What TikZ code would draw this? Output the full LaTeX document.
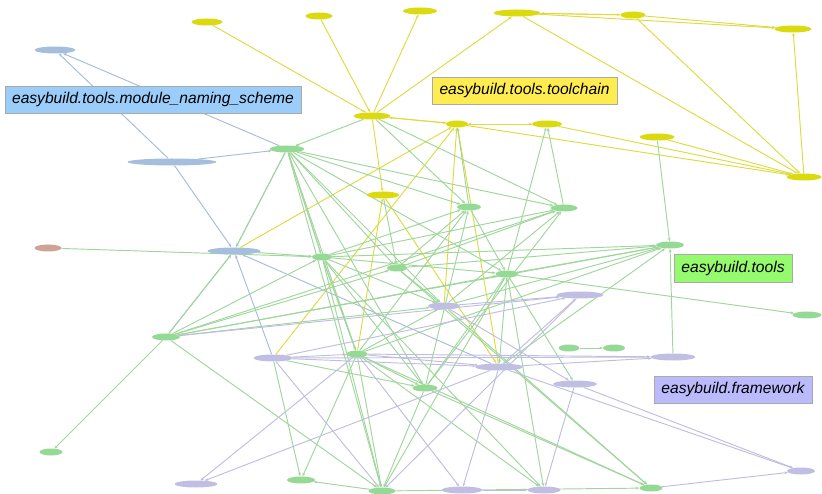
\documentclass[tikz,border=0pt]{standalone}
\usepackage{fontspec}
\setmainfont{Liberation Sans}
\usetikzlibrary{shapes.geometric}
\usetikzlibrary{arrows.meta}
\usetikzlibrary{backgrounds}

\definecolor{tcfill}{RGB}{218,218,14}
\definecolor{mnsfill}{RGB}{166,190,222}
\definecolor{toolsfill}{RGB}{148,218,148}
\definecolor{fwfill}{RGB}{192,190,226}
\definecolor{otherfill}{RGB}{208,162,150}
\definecolor{tcline}{RGB}{220,220,64}
\definecolor{mnsline}{RGB}{168,188,216}
\definecolor{toolsline}{RGB}{160,214,156}
\definecolor{fwline}{RGB}{192,190,222}
\definecolor{mnsbox}{RGB}{155,205,250}
\definecolor{tcbox}{RGB}{255,236,80}
\definecolor{toolsbox}{RGB}{150,250,110}
\definecolor{fwbox}{RGB}{186,186,252}
\definecolor{boxline}{RGB}{170,170,170}

\begin{document}
\begin{tikzpicture}[x=1pt,y=-1pt,
  mod/.style={ellipse,draw=none,minimum height=7pt,inner sep=0pt},
  tcnode/.style={mod,fill=tcfill},
  mnsnode/.style={mod,fill=mnsfill},
  toolsnode/.style={mod,fill=toolsfill},
  fwnode/.style={mod,fill=fwfill},
  othernode/.style={mod,fill=otherfill},
  dep/.style={line width=0.95pt,-{Stealth[length=3.5pt,width=2.8pt]}},
  tcedge/.style={dep,draw=tcline},
  mnsedge/.style={dep,draw=mnsline},
  toolsedge/.style={dep,draw=toolsline},
  fwedge/.style={dep,draw=fwline},
  group/.style={draw=boxline,line width=0.6pt,minimum height=27pt,inner sep=0pt,
    font=\fontsize{15.6}{18}\selectfont\itshape}]

\useasboundingbox (0,0) rectangle (822,494);

% toolchain modules
\node[tcnode,minimum width=31pt] (y1) at (207,22) {};
\node[tcnode,minimum width=27pt] (y2) at (319,16) {};
\node[tcnode,minimum width=34pt] (y3) at (420,11) {};
\node[tcnode,minimum width=47pt] (y4) at (517,13) {};
\node[tcnode,minimum width=25pt] (y5) at (633,15) {};
\node[tcnode,minimum width=37pt] (y6) at (793,29) {};
\node[tcnode,minimum width=37pt] (y7) at (372,116) {};
\node[tcnode,minimum width=22pt] (y8) at (457,124) {};
\node[tcnode,minimum width=30pt] (y9) at (547,124) {};
\node[tcnode,minimum width=35pt] (y10) at (657,137) {};
\node[tcnode,minimum width=35pt] (y11) at (804,177) {};
\node[tcnode,minimum width=32pt] (y12) at (383,195) {};

% module naming scheme modules
\node[mnsnode,minimum width=41pt] (b1) at (55,50) {};
\node[mnsnode,minimum width=89pt] (b2) at (172,162) {};
\node[mnsnode,minimum width=53pt] (b3) at (234,251) {};
\node[othernode,minimum width=27pt] (r1) at (48,248) {};

% tools modules
\node[toolsnode,minimum width=35pt] (g1) at (287,149) {};
\node[toolsnode,minimum width=24pt] (g2) at (469,207) {};
\node[toolsnode,minimum width=27pt] (g3) at (564,208) {};
\node[toolsnode,minimum width=20pt] (g4) at (322,257) {};
\node[toolsnode,minimum width=20pt] (g5) at (397,268) {};
\node[toolsnode,minimum width=23pt] (g6) at (507,274) {};
\node[toolsnode,minimum width=28pt] (g7) at (670,245) {};
\node[toolsnode,minimum width=28pt] (g8) at (166,337) {};
\node[toolsnode,minimum width=21pt] (g9) at (357,354) {};
\node[toolsnode,minimum width=25pt] (g10) at (425,388) {};
\node[toolsnode,minimum width=23pt] (g11) at (51,452) {};
\node[toolsnode,minimum width=28pt] (g12) at (301,480) {};
\node[toolsnode,minimum width=27pt] (g13) at (382,491) {};
\node[toolsnode,minimum width=23pt] (g14) at (651,488) {};
\node[toolsnode,minimum width=29pt] (g15) at (807,315) {};
\node[toolsnode,minimum width=21pt] (g16) at (569,348) {};
\node[toolsnode,minimum width=22pt] (g17) at (614,348) {};

% framework modules
\node[fwnode,minimum width=32pt] (p1) at (444,306) {};
\node[fwnode,minimum width=47pt] (p2) at (580,295) {};
\node[fwnode,minimum width=39pt] (p3) at (273,358) {};
\node[fwnode,minimum width=48pt] (p4) at (499,367) {};
\node[fwnode,minimum width=45pt] (p5) at (673,357) {};
\node[fwnode,minimum width=44pt] (p6) at (575,384) {};
\node[fwnode,minimum width=43pt] (p7) at (196,484) {};
\node[fwnode,minimum width=41pt] (p8) at (462,490) {};
\node[fwnode,minimum width=33pt] (p9) at (544,490) {};
\node[fwnode,minimum width=28pt] (p10) at (801,471) {};

% package labels
\node[group,fill=mnsbox,minimum width=296pt] (mnslabel) at (153,99.5) {easybuild.tools.module\_naming\_scheme};
\node[group,fill=tcbox,minimum width=185pt] (tclabel) at (524.5,90.5) {easybuild.tools.toolchain};
\node[group,fill=toolsbox,minimum width=118pt,minimum height=28pt] (toolslabel) at (733,268) {easybuild.tools};
\node[group,fill=fwbox,minimum width=158pt] (fwlabel) at (733,389.5) {easybuild.framework};

\begin{pgfonlayer}{background}
% toolchain imports
\draw[tcedge] (y1) -- (y7);
\draw[tcedge] (y2) -- (y7);
\draw[tcedge] (y7) -- (y3);
\draw[tcedge] (y7) -- (y4);
\draw[tcedge] (y4) -- (y5);
\draw[tcedge] (y5) -- (y4);
\draw[tcedge] (y5) -- (y6);
\draw[tcedge] (y4) -- (y6);
\draw[tcedge] (y4) -- (y11);
\draw[tcedge] (y5) -- (y11);
\draw[tcedge] (y11) -- (y6);
\draw[tcedge] (y7) -- (y8);
\draw[tcedge] (y8) -- (y7);
\draw[tcedge] (y8) -- (y9);
\draw[tcedge] (y9) -- (y8);
\draw[tcedge] (y9) -- (y11);
\draw[tcedge] (y8) -- (y11);
\draw[tcedge] (y10) -- (y11);
\draw[tcedge] (y7) -- (y12);
\draw[tcedge] (b3) -- (y8);
\draw[tcedge] (p3) -- (y8);
\draw[tcedge] (p1) -- (y8);
\draw[tcedge] (p4) -- (y8);
\draw[tcedge] (g9) -- (y12);
\draw[tcedge] (y12) -- (p4);

% module naming scheme imports
\draw[mnsedge] (b2) -- (b1);
\draw[mnsedge] (g1) -- (b1);
\draw[mnsedge] (b2) -- (b3);
\draw[mnsedge] (b2) -- (g1);
\draw[mnsedge] (g1) -- (b3);
\draw[mnsedge] (p3) -- (b3);
\draw[mnsedge] (p4) -- (b3);
\draw[mnsedge] (g8) -- (b3);

% tools imports
\draw[toolsedge] (r1) -- (g4);
\draw[toolsedge] (b3) -- (g4);
\draw[toolsedge] (g1) -- (b3);
\draw[toolsedge] (g8) -- (b3);
\draw[toolsedge] (g8) -- (g11);
\draw[toolsedge] (g8) -- (g4);
\draw[toolsedge] (g8) -- (g5);
\draw[toolsedge] (g8) -- (g6);
\draw[toolsedge] (g8) -- (g7);
\draw[toolsedge] (g8) -- (g3);
\draw[toolsedge] (g8) -- (p1);
\draw[toolsedge] (g8) -- (g13);
\draw[toolsedge] (y7) -- (g1);
\draw[toolsedge] (g1) -- (g4);
\draw[toolsedge] (g4) -- (g1);
\draw[toolsedge] (g1) -- (g5);
\draw[toolsedge] (g1) -- (g3);
\draw[toolsedge] (g1) -- (g6);
\draw[toolsedge] (g1) -- (p1);
\draw[toolsedge] (g1) -- (g10);
\draw[toolsedge] (g1) -- (g9);
\draw[toolsedge] (g1) -- (g13);
\draw[toolsedge] (g1) -- (g2);
\draw[toolsedge] (y7) -- (g2);
\draw[toolsedge] (y7) -- (g3);
\draw[toolsedge] (g2) -- (y8);
\draw[toolsedge] (g3) -- (y9);
\draw[toolsedge] (g6) -- (y9);
\draw[toolsedge] (y12) -- (g5);
\draw[toolsedge] (y10) -- (g7);
\draw[toolsedge] (p5) -- (g7);
\draw[toolsedge] (g16) -- (g17);
\draw[toolsedge] (g4) -- (g2);
\draw[toolsedge] (g4) -- (g6);
\draw[toolsedge] (g4) -- (g7);
\draw[toolsedge] (g4) -- (g3);
\draw[toolsedge] (g4) -- (g10);
\draw[toolsedge] (g4) -- (g9);
\draw[toolsedge] (g4) -- (p9);
\draw[toolsedge] (g4) -- (g13);
\draw[toolsedge] (g4) -- (p1);
\draw[toolsedge] (g5) -- (g2);
\draw[toolsedge] (g5) -- (g3);
\draw[toolsedge] (g5) -- (g7);
\draw[toolsedge] (g5) -- (g14);
\draw[toolsedge] (g5) -- (p1);
\draw[toolsedge] (g9) -- (g2);
\draw[toolsedge] (g9) -- (g4);
\draw[toolsedge] (g9) -- (g12);
\draw[toolsedge] (g9) -- (g13);
\draw[toolsedge] (g9) -- (g10);
\draw[toolsedge] (g9) -- (p1);
\draw[toolsedge] (g9) -- (g7);
\draw[toolsedge] (g9) -- (g14);
\draw[toolsedge] (g9) -- (p9);
\draw[toolsedge] (g10) -- (g2);
\draw[toolsedge] (g10) -- (g6);
\draw[toolsedge] (g10) -- (g3);
\draw[toolsedge] (g10) -- (g14);
\draw[toolsedge] (g10) -- (g13);
\draw[toolsedge] (p3) -- (g10);
\draw[toolsedge] (p3) -- (g12);
\draw[toolsedge] (g6) -- (g7);
\draw[toolsedge] (g6) -- (g15);
\draw[toolsedge] (g6) -- (p4);
\draw[toolsedge] (g6) -- (p9);
\draw[toolsedge] (g6) -- (p6);
\draw[toolsedge] (g6) -- (g13);
\draw[toolsedge] (g2) -- (g6);
\draw[toolsedge] (p1) -- (g7);
\draw[toolsedge] (p4) -- (g7);
\draw[toolsedge] (p1) -- (g14);
\draw[toolsedge] (p1) -- (g3);
\draw[toolsedge] (g13) -- (g12);
\draw[toolsedge] (g13) -- (g14);

% framework imports
\draw[fwedge] (p3) -- (p5);
\draw[fwedge] (g9) -- (p5);
\draw[fwedge] (p3) -- (p4);
\draw[fwedge] (p3) -- (g13);
\draw[fwedge] (p3) -- (g9);
\draw[fwedge] (g9) -- (p7);
\draw[fwedge] (p4) -- (p7);
\draw[fwedge] (p4) -- (p10);
\draw[fwedge] (p6) -- (p10);
\draw[fwedge] (g14) -- (p10);
\draw[fwedge] (p1) -- (p2);
\draw[fwedge] (p4) -- (p2);
\draw[fwedge] (p3) -- (p2);
\draw[fwedge] (g8) -- (p2);
\draw[fwedge] (g9) -- (p8);
\draw[fwedge] (p4) -- (p8);
\draw[fwedge] (p6) -- (p9);
\draw[fwedge] (p8) -- (p9);
\draw[fwedge] (p1) -- (p6);
\draw[fwedge] (g9) -- (p4);
\draw[fwedge] (p4) -- (p5);
\draw[fwedge] (p2) -- (g13);
\end{pgfonlayer}

\end{tikzpicture}
\end{document}
